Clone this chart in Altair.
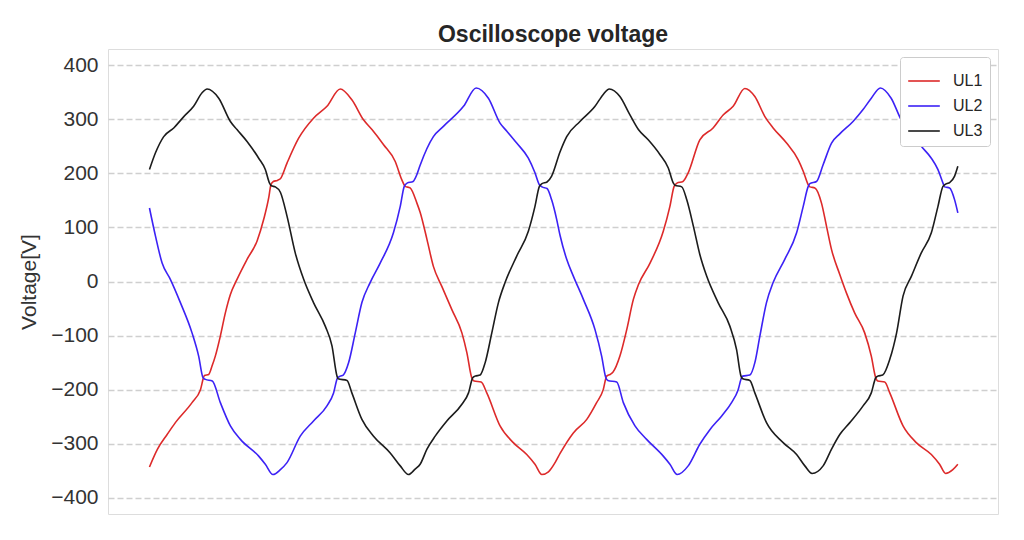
import altair as alt
import pandas as pd

# time in ms, voltage in V
t_ul1 = [0.05, 0.45, 0.93, 1.34, 2.17, 2.59, 2.79, 3.00, 3.17, 3.33, 3.58, 3.83, 4.08, 4.41, 4.91,
         5.41, 5.74, 5.99, 6.10, 6.22, 6.42, 6.57, 6.90, 7.48, 8.22, 8.89, 9.55, 10.13, 10.71, 11.13,
         11.71, 12.29, 12.62, 12.79, 13.03, 13.37, 13.53, 13.87, 14.19, 14.61, 15.11, 15.61, 15.86,
         16.10, 16.22, 16.57, 16.85, 17.51, 18.17, 18.84, 19.25, 19.59, 19.92, 20.25, 20.50, 21.16,
         21.83, 22.32, 22.65, 22.82, 22.99, 23.13, 23.48, 23.82, 24.15, 24.40, 24.98, 25.64, 25.97,
         26.18, 26.32, 26.62, 26.88, 27.46, 28.12, 28.62, 29.12, 29.70, 30.20, 30.70, 31.11, 31.78,
         32.36, 32.61, 32.86, 32.94, 33.19, 33.52, 33.77, 34.02, 34.43, 34.76, 35.17, 35.67, 36.00,
         36.22, 36.32, 36.67, 36.92, 37.58, 38.24, 38.99, 39.40, 39.70, 40.06, 40.31]
v_ul1 = [-343, -310, -283, -261, -224, -200, -174, -172, -156, -138, -101, -58, -24, 4, 41,
         75, 115, 155, 179, 185, 187, 190, 219, 265, 302, 324, 356, 336, 299, 281,
         253, 222, 188, 176, 173, 145, 128, 78, 28, -9, -52, -95, -132,
         -178, -184, -186, -206, -267, -298, -320, -338, -357, -352, -335, -318, -280,
         -255, -224, -200, -175, -172, -168, -138, -89, -33, -6, 34, 93, 139,
         176, 182, 185, 201, 262, 284, 308, 324, 357, 342, 305, 284, 256,
         225, 204, 179, 175, 173, 145, 102, 59, 13, -21, -58, -95, -138,
         -178, -184, -186, -206, -267, -298, -320, -338, -355, -348, -338]

t_ul2 = [0.05, 0.35, 0.68, 1.09, 1.59, 2.17, 2.50, 2.72, 2.84, 3.18, 3.58, 4.08, 4.58, 5.49, 5.82,
         6.20, 6.57, 6.90, 7.56, 8.22, 8.89, 9.22, 9.42, 9.55, 9.70, 9.97, 10.30, 10.63, 11.04,
         11.54, 12.20, 12.54, 12.74, 12.88, 13.18, 13.37, 13.53, 14.19, 14.69, 15.69, 16.32, 16.93,
         17.51, 17.85, 18.34, 18.92, 19.25, 19.47, 19.60, 19.85, 20.08, 20.33, 20.50, 20.83, 21.16,
         21.66, 22.24, 22.57, 22.78, 22.88, 23.32, 23.65, 24.23, 24.81, 25.64, 25.97, 26.33, 26.88,
         27.46, 27.96, 28.54, 29.04, 29.37, 29.54, 29.60, 29.95, 30.20, 30.45, 30.78, 31.11, 31.69,
         32.28, 32.61, 32.86, 32.94, 33.27, 33.60, 34.02, 34.43, 35.09, 35.59, 36.00, 36.45, 36.99,
         37.49, 37.99, 38.49, 38.99, 39.32, 39.57, 39.65, 39.90, 40.15, 40.31]
v_ul2 = [136, 84, 34, 4, -39, -95, -138, -178, -181, -184, -224, -267, -292, -323, -338,
         -357, -348, -335, -286, -258, -230, -206, -178, -175, -173, -150, -95, -39, -2,
         34, 90, 139, 176, 182, 185, 198, 215, 268, 287, 324, 358, 339,
         293, 278, 256, 228, 201, 179, 175, 172, 151, 115, 85, 41, 10,
         -33, -89, -138, -178, -183, -186, -224, -267, -292, -323, -338, -357, -341,
         -301, -274, -249, -224, -200, -178, -175, -173, -150, -101, -39, -2, 41,
         90, 139, 176, 181, 185, 216, 256, 273, 296, 318, 339, 358, 339,
         299, 275, 250, 228, 207, 182, 175, 173, 151, 127]

t_ul3 = [0.05, 0.35, 0.76, 1.26, 1.76, 2.25, 2.67, 2.92, 3.50, 4.08, 4.41, 4.91, 5.49, 5.82, 6.03,
         6.12, 6.32, 6.57, 6.90, 7.31, 7.73, 8.22, 8.81, 9.14, 9.39, 9.45, 9.89, 10.13, 10.63,
         11.21, 12.04, 12.54, 12.95, 13.28, 13.53, 13.87, 14.28, 14.86, 15.61, 15.94, 16.15, 16.27,
         16.52, 16.77, 17.10, 17.43, 17.76, 18.34, 18.92, 19.25, 19.47, 19.60, 19.85, 20.08, 20.50,
         20.83, 21.49, 22.24, 22.65, 22.95, 23.48, 23.98, 24.40, 24.89, 25.47, 25.89, 26.14, 26.22,
         26.56, 26.81, 27.14, 27.46, 27.80, 28.37, 28.96, 29.29, 29.51, 29.60, 29.95, 30.20, 30.78,
         31.61, 32.28, 32.69, 33.05, 33.60, 34.02, 34.43, 34.93, 35.59, 36.00, 36.22, 36.32, 36.57,
         36.92, 37.26, 37.58, 38.00, 38.49, 38.99, 39.32, 39.57, 39.75, 39.90, 40.15, 40.31]
v_ul3 = [207, 238, 268, 284, 305, 324, 349, 356, 339, 296, 281, 259, 228, 207, 182,
         177, 175, 165, 121, 53, 4, -39, -83, -119, -175, -180, -183, -206, -255,
         -286, -317, -341, -357, -347, -338, -310, -286, -258, -227, -206, -178, -175,
         -173, -150, -95, -39, -2, 47, 93, 139, 176, 181, 184, 195, 240,
         268, 296, 324, 346, 356, 342, 308, 281, 262, 235, 210, 182, 178,
         175, 151, 102, 50, 10, -39, -83, -126, -175, -180, -183, -206, -261,
         -298, -320, -341, -355, -341, -310, -283, -261, -230, -206, -178, -175, -173,
         -144, -95, -27, 10, 53, 90, 139, 176, 181, 183, 195, 213]

series_names = ["UL1", "UL2", "UL3"]
series_colors = ["#dd2a2a", "#3c22f5", "#1c1c1c"]
y_ticks = [-400, -300, -200, -100, 0, 100, 200, 300, 400]

frames = []
for name, ts, vs in zip(series_names, [t_ul1, t_ul2, t_ul3], [v_ul1, v_ul2, v_ul3]):
    frames.append(pd.DataFrame({"t": ts, "v": vs, "series": name}))
df = pd.concat(frames, ignore_index=True)

font = "Liberation Sans"

chart = alt.Chart(df).mark_line(strokeWidth=1.6, interpolate="monotone").encode(
    x=alt.X("t:Q", scale=alt.Scale(domain=[-2.015, 42.31], nice=False, zero=False), axis=None),
    y=alt.Y("v:Q", scale=alt.Scale(domain=[-430, 430], nice=False, zero=False),
            axis=alt.Axis(values=y_ticks, title="Voltage[V]", ticks=False, domain=False,
                          grid=True, gridColor="#cfcfcf", gridDash=[6, 3], gridWidth=1.4,
                          labelFontSize=21, labelFont=font, labelColor="#333333", labelPadding=10,
                          labelExpr="replace(datum.label, '-', '\u2212')",
                          titleFontSize=21, titleFont=font, titleColor="#333333",
                          titleFontWeight="normal", titleAngle=-90, titleX=-73, titleY=232.5,
                          titleAlign="center", titleBaseline="alphabetic")),
    color=alt.Color("series:N", scale=alt.Scale(domain=series_names, range=series_colors),
                    legend=alt.Legend(title=None, orient="top-right", offset=8,
                                      fillColor="white", strokeColor="#cccccc", cornerRadius=3,
                                      padding=7, symbolType="stroke", symbolSize=1000,
                                      symbolStrokeWidth=1.6, labelFontSize=16, labelFont=font,
                                      labelColor="#262626", rowPadding=-8, labelOffset=12)),
    order="t:Q",
).properties(
    width=890,
    height=465,
    title=alt.TitleParams("Oscilloscope voltage", fontSize=23, font=font, fontWeight="bold",
                          color="#262626", offset=2, anchor="middle"),
    autosize=alt.AutoSizeParams(type="none"),
    padding={"left": 100, "top": 41, "right": 18, "bottom": 10},
).configure_view(stroke="#cccccc", strokeWidth=1).configure(background="white")

chart.save("out.html", embed_options={"renderer": "svg", "actions": False})
